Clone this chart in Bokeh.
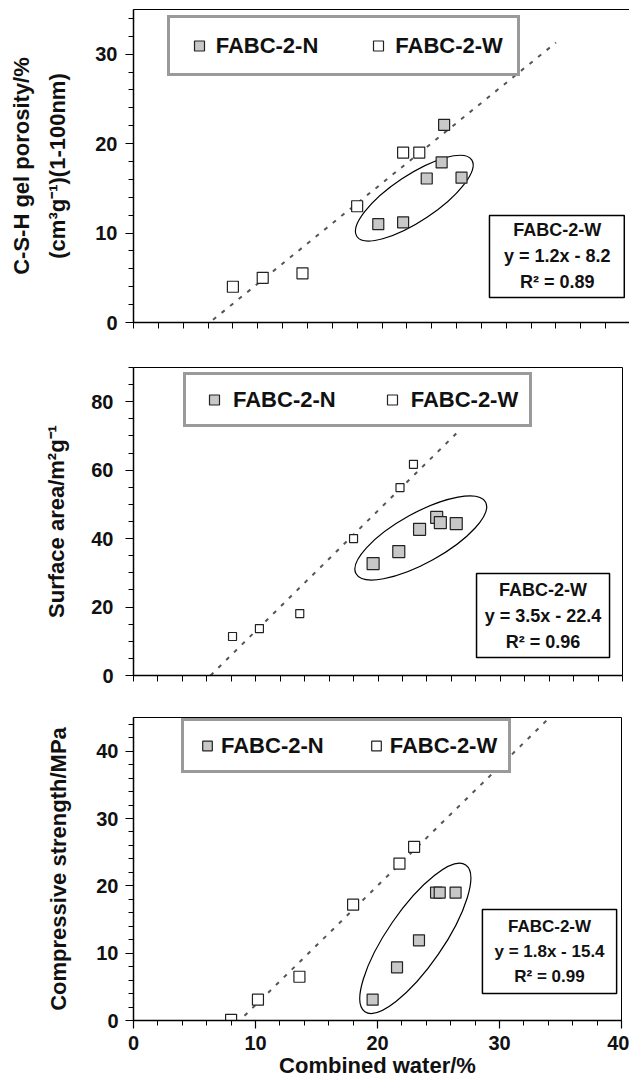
from bokeh.plotting import figure
from bokeh.layouts import column
from bokeh.models import Legend, LegendItem, BoxAnnotation, Label, FixedTicker, Range1d
from bokeh.embed import file_html
from bokeh.resources import INLINE

FONT = "Liberation Sans"

# ---------------- data ----------------
series_names = ["FABC-2-N", "FABC-2-W"]
x_ticks = [0, 10, 20, 30, 40]

# Panel 1: C-S-H gel porosity
por_w_x = [8.0, 10.4, 13.6, 18.0, 21.7, 23.0]
por_w_y = [4.0, 5.0, 5.5, 13.0, 19.0, 19.0]
por_n_x = [19.7, 21.7, 23.6, 24.8, 25.0, 26.4]
por_n_y = [11.0, 11.2, 16.1, 17.9, 22.1, 16.2]
por_fit_x = [6.4, 34.0]
por_fit_y = [0.3, 31.3]
por_ticks = [0, 10, 20, 30]
por_text = "FABC-2-W\ny = 1.2x - 8.2\nR² = 0.89"

# Panel 2: surface area
sa_w_x = [8.1, 10.3, 13.6, 18.0, 21.8, 22.9]
sa_w_y = [11.4, 13.7, 18.1, 40.0, 54.9, 61.7]
sa_n_x = [19.6, 21.7, 23.4, 24.8, 25.1, 26.4]
sa_n_y = [32.7, 36.2, 42.7, 46.2, 44.7, 44.4]
sa_fit_x = [6.3, 26.4]
sa_fit_y = [0.0, 70.7]
sa_ticks = [0, 20, 40, 60, 80]
sa_text = "FABC-2-W\ny = 3.5x - 22.4\nR² = 0.96"

# Panel 3: compressive strength
cs_w_x = [8.0, 10.2, 13.6, 18.0, 21.8, 23.0]
cs_w_y = [0.1, 3.1, 6.5, 17.2, 23.3, 25.8]
cs_n_x = [19.6, 21.6, 23.4, 24.8, 25.1, 26.4]
cs_n_y = [3.1, 7.9, 11.9, 19.0, 19.0, 19.0]
cs_fit_x = [9.1, 34.0]
cs_fit_y = [0.7, 44.8]
cs_ticks = [0, 10, 20, 30, 40]
cs_text = "FABC-2-W\ny = 1.8x - 15.4\nR² = 0.99"


def panel(cfg):
    p = figure(frame_width=cfg["fw"], frame_height=cfg["fh"],
               x_range=Range1d(0, 40), y_range=Range1d(0, cfg["ymax"]),
               output_backend="svg", toolbar_location=None,
               min_border_left=cfg["bl"], min_border_right=cfg["br"],
               min_border_top=cfg["bt"], min_border_bottom=cfg["bb"],
               background_fill_color="white", border_fill_color="white")
    p.outline_line_color = "black"
    p.outline_line_width = 1
    p.grid.visible = False

    if cfg["xlabels"]:
        p.xaxis.ticker = FixedTicker(ticks=x_ticks, minor_ticks=list(range(0, 41, 2)))
    else:
        # upper panels: tick marks only, no tick labels
        p.xaxis.ticker = FixedTicker(ticks=[], minor_ticks=list(range(0, 41, 2)))
    p.yaxis.ticker = FixedTicker(ticks=cfg["yticks"], minor_ticks=cfg["yminor"])
    for ax in (p.xaxis, p.yaxis):
        ax.axis_line_color = "black"
        ax.axis_line_width = 1.5
        ax.major_tick_line_color = "black"
        ax.minor_tick_line_color = "black"
        ax.major_tick_line_width = 1.2
        ax.minor_tick_line_width = 1.0
        ax.major_tick_in = 0
        ax.minor_tick_in = 0
        ax.major_tick_out = 8
        ax.minor_tick_out = 5
        ax.major_label_text_font = FONT
        ax.major_label_text_font_style = "bold"
        ax.major_label_text_font_size = "20px"
        ax.major_label_text_color = "#111111"
        ax.axis_label_text_font = FONT
        ax.axis_label_text_font_style = "bold"
        ax.axis_label_text_font_size = "22px"
        ax.axis_label_text_color = "#111111"
    p.yaxis.major_label_standoff = cfg["ystand"]
    p.yaxis.axis_label = cfg["ylabel"]
    p.yaxis.axis_label_standoff = cfg["ylstand"]
    p.yaxis.axis_label_text_line_height = 1.45
    p.yaxis.axis_label_text_align = "center"
    if cfg["xlabels"]:
        p.xaxis.major_label_standoff = 7
        p.xaxis.axis_label = "Combined water/%"
        p.xaxis.axis_label_standoff = 0
    else:
        p.xaxis.minor_tick_out = 6

    # trend line of FABC-2-W
    p.line(cfg["fx"], cfg["fy"], line_color="#555555", line_width=2, line_dash="4 7")

    # ellipse around FABC-2-N
    ex, ey, ew, eh, ea = cfg["ell"]
    p.ellipse(x=[ex], y=[ey], width=ew, height=eh, angle=ea, angle_units="deg",
              width_units="screen", height_units="screen",
              fill_color=None, line_color="black", line_width=1.2)

    rn = p.scatter(cfg["nx"], cfg["ny"], marker="square", size=cfg["ns"],
                   fill_color="#c8c8c8", line_color="#222222", line_width=1.2)
    rw = p.scatter(cfg["wx"], cfg["wy"], marker="square", size=cfg["ws"],
                   fill_color="white", line_color="#222222", line_width=1.2)

    lg = Legend(items=[LegendItem(label=series_names[0], renderers=[rn]),
                       LegendItem(label=series_names[1], renderers=[rw])],
                orientation="horizontal", location=cfg["lloc"],
                border_line_color="#9a9a9a", border_line_width=3,
                border_line_alpha=1.0,
                background_fill_color="white", background_fill_alpha=1.0,
                label_text_font=FONT, label_text_font_style="bold",
                label_text_font_size="22px", label_text_color="#111111",
                glyph_width=cfg["gw"], glyph_height=25, label_height=27,
                label_standoff=2, spacing=cfg["lspace"],
                padding=cfg["lpad"], margin=0)
    p.add_layout(lg)

    bl, br, bt, bb = cfg["box"]
    p.add_layout(BoxAnnotation(left=bl, right=br, top=bt, bottom=bb,
                               fill_color="white", fill_alpha=1.0,
                               line_color="black", line_alpha=1.0,
                               line_width=1.5))
    cx, cy = cfg["tpos"]
    p.add_layout(Label(x=cx, y=cy, text=cfg["text"], text_align="center",
                       text_baseline="middle", text_font=FONT,
                       text_font_style="bold", text_font_size=cfg["tsize"],
                       text_line_height=1.3, text_color="#111111"))
    return p


p1 = panel(dict(fw=497, fh=313, ymax=35, bl=129, br=3, bt=9, bb=30,
                yticks=por_ticks, yminor=list(range(0, 36, 2)), ystand=8,
                ylabel="C-S-H gel porosity/%\n(cm³g⁻¹)(1-100nm)", ylstand=22,
                xlabels=False, fx=por_fit_x, fy=por_fit_y,
                ell=(22.6, 13.9, 138, 46, 33.7),
                nx=por_n_x, ny=por_n_y, wx=por_w_x, wy=por_w_y, ns=11, ws=11,
                lloc=(38, 246), gw=30, lspace=45, lpad=14,
                box=(28.65, 39.5, 11.96, 2.8), tpos=(34.1, 7.4),
                text=por_text, tsize="18px"))

p2 = panel(dict(fw=489, fh=308, ymax=90, bl=133, br=7, bt=15, bb=30,
                yticks=sa_ticks, yminor=list(range(0, 91, 5)), ystand=12,
                ylabel="Surface area/m²g⁻¹", ylstand=19,
                xlabels=False, fx=sa_fit_x, fy=sa_fit_y,
                ell=(23.5, 40.2, 148, 50, 29),
                nx=sa_n_x, ny=sa_n_y, wx=sa_w_x, wy=sa_w_y, ns=12, ws=8,
                lloc=(50, 248), gw=34, lspace=39, lpad=11,
                box=(28.06, 38.94, 29.8, 5.26), tpos=(33.5, 17.5),
                text=sa_text, tsize="18px"))

p3 = panel(dict(fw=488, fh=303, ymax=45, bl=130, br=11, bt=12, bb=62,
                yticks=cs_ticks, yminor=list(range(0, 46, 2)), ystand=7,
                ylabel="Compressive strength/MPa", ylstand=22,
                xlabels=True, fx=cs_fit_x, fy=cs_fit_y,
                ell=(23.1, 12.2, 178, 56, 55.5),
                nx=cs_n_x, ny=cs_n_y, wx=cs_w_x, wy=cs_w_y, ns=11, ws=11,
                lloc=(48, 247), gw=24, lspace=40, lpad=11,
                box=(28.6, 39.6, 16.5, 4.0), tpos=(34.1, 10.25),
                text=cs_text, tsize="17px"))

layout = column(p1, p2, p3, spacing=0)
open("out.html", "w").write(file_html(layout, INLINE))
